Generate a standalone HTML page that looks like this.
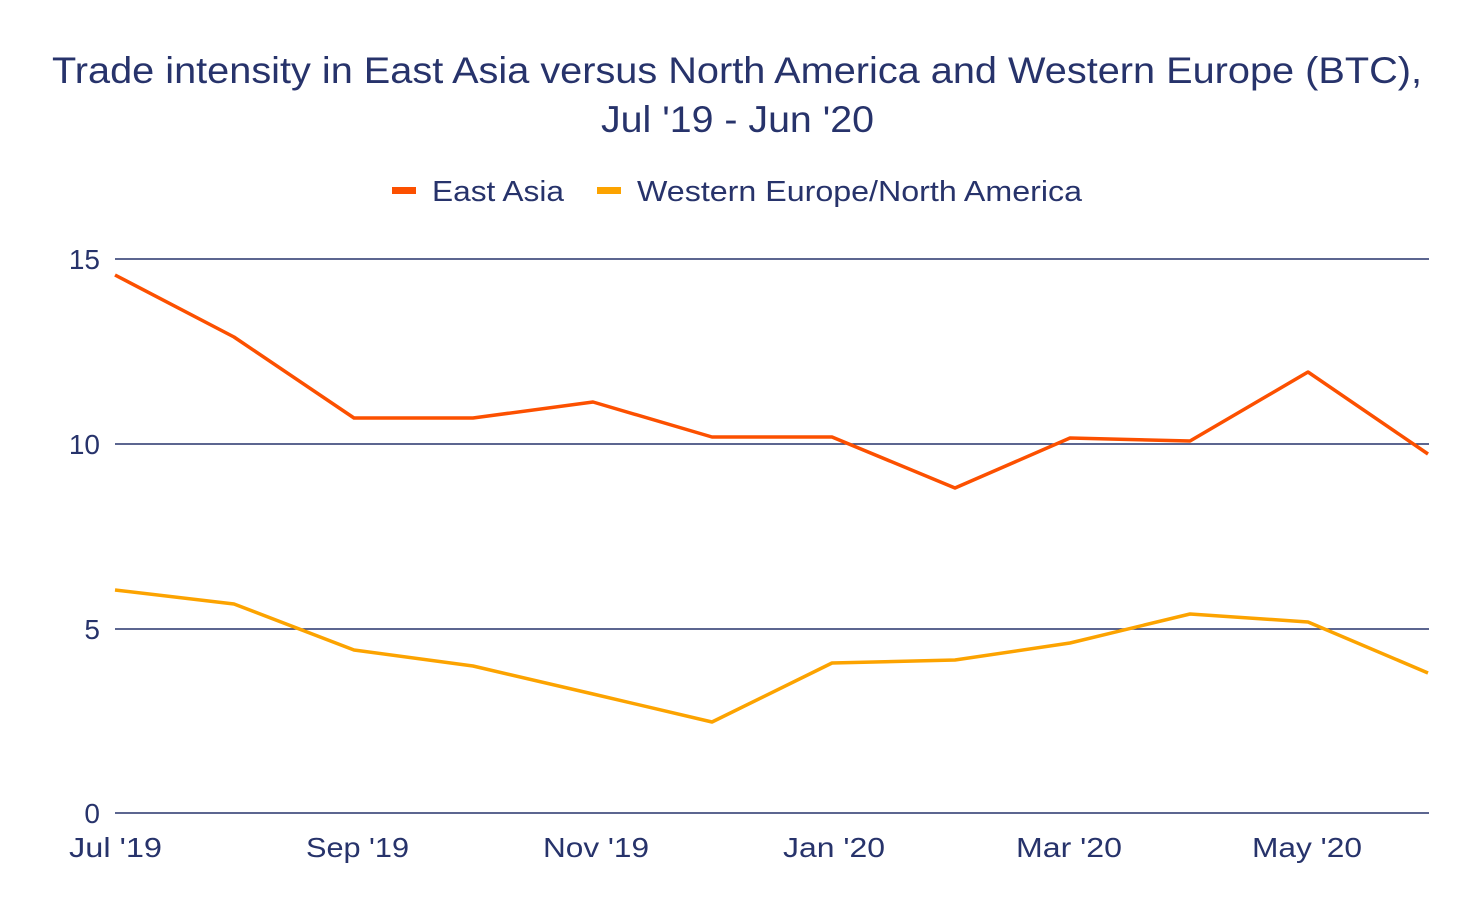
<!DOCTYPE html>
<html><head><meta charset="utf-8"><style>
body{margin:0;background:#fff;}
svg{display:block;font-family:"Liberation Sans",sans-serif;}
</style></head><body>
<svg width="1474" height="912" viewBox="0 0 1474 912">
<rect width="1474" height="912" fill="#fff"/>
<g fill="#27336b" font-size="37">
<text x="52" y="83" textLength="1370" lengthAdjust="spacingAndGlyphs">Trade intensity in East Asia versus North America and Western Europe (BTC),</text>
<text x="601" y="132" textLength="273" lengthAdjust="spacingAndGlyphs">Jul '19 - Jun '20</text>
</g>
<rect x="392" y="187" width="24" height="7" fill="#fc5000"/>
<text x="432" y="201" font-size="29" fill="#27336b" textLength="132" lengthAdjust="spacingAndGlyphs">East Asia</text>
<rect x="597" y="187" width="24" height="7" fill="#fca300"/>
<text x="637" y="201" font-size="29" fill="#27336b" textLength="445" lengthAdjust="spacingAndGlyphs">Western Europe/North America</text>
<g stroke="#27336b" stroke-width="1.5">
<line x1="115" y1="259" x2="1429" y2="259"/>
<line x1="115" y1="444" x2="1429" y2="444"/>
<line x1="115" y1="629" x2="1429" y2="629"/>
<line x1="115" y1="813" x2="1429" y2="813"/>
</g>
<g fill="#27336b" font-size="28" text-anchor="end">
<text x="100" y="269">15</text><text x="100" y="454">10</text><text x="100" y="639">5</text><text x="100" y="823">0</text>
</g>
<g fill="#27336b" font-size="28">
<text x="69" y="857" textLength="93" lengthAdjust="spacingAndGlyphs">Jul '19</text>
<text x="306" y="857" textLength="103" lengthAdjust="spacingAndGlyphs">Sep '19</text>
<text x="543" y="857" textLength="106" lengthAdjust="spacingAndGlyphs">Nov '19</text>
<text x="783" y="857" textLength="102" lengthAdjust="spacingAndGlyphs">Jan '20</text>
<text x="1016" y="857" textLength="106" lengthAdjust="spacingAndGlyphs">Mar '20</text>
<text x="1252" y="857" textLength="110" lengthAdjust="spacingAndGlyphs">May '20</text>
</g>
<polyline fill="none" stroke="#fc5000" stroke-width="3.5" stroke-linejoin="round" points="115,275 234,337 354,418 473,418 593,402 712,437 832,437 955,488 1070,438 1190,441 1308,372 1428,454"/>
<polyline fill="none" stroke="#fca300" stroke-width="3.5" stroke-linejoin="round" points="115,590 234,604 354,650 473,666 593,694 712,722 832,663 955,660 1070,643 1190,614 1308,622 1428,673"/>
</svg>
</body></html>
